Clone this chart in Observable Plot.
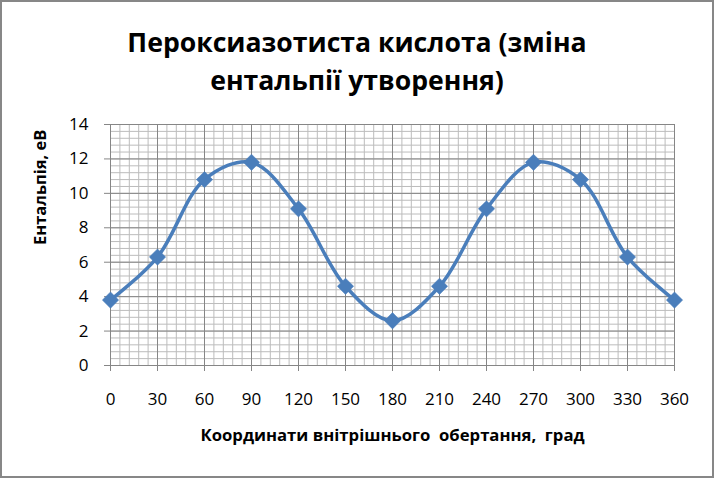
<!DOCTYPE html>
<html><head><meta charset="utf-8">
<script src="https://cdn.jsdelivr.net/npm/d3@7"></script>
<script src="https://cdn.jsdelivr.net/npm/@observablehq/plot@0.6"></script>
<style>
body{margin:0;background:#fff}
#wrap{position:relative;width:714px;height:478px;font-family:"Open Sans",sans-serif;overflow:hidden}
.tl{position:absolute;left:0;width:714px;text-align:center;font-weight:bold;font-size:27px;line-height:27px;height:27px;color:#000;transform:scaleX(0.985);transform-origin:357px 0;white-space:nowrap}
#border{position:absolute;left:0;top:0;width:714px;height:478px;box-sizing:border-box;border:2px solid #878787;pointer-events:none}
</style></head><body>
<div id="wrap"><div id="chart"></div><div id="t1" class="tl" style="top:28px"></div><div id="t2" class="tl" style="top:65.5px"></div><div id="border"></div></div>
<script>
const titleLines = ["Пероксиазотиста кислота (зміна", "ентальпії утворення)"];
const xTitle = "Координати внітрішнього  обертання,  град";
const yTitle = "Ентальпія, еВ";
const angles = [0, 30, 60, 90, 120, 150, 180, 210, 240, 270, 300, 330, 360];
const enthalpy = [3.8, 6.3, 10.8, 11.8, 9.1, 4.6, 2.6, 4.6, 9.1, 11.8, 10.8, 6.3, 3.8];
const xTicks = [0, 30, 60, 90, 120, 150, 180, 210, 240, 270, 300, 330, 360];
const yTicks = [0, 2, 4, 6, 8, 10, 12, 14];

document.getElementById("t1").textContent = titleLines[0];
document.getElementById("t2").textContent = titleLines[1];

const data = angles.map((a, i) => ({a, e: enthalpy[i]}));
const xMinor = d3.range(0, 61).map(i => i * 6);
const yMinor = d3.range(0, 36).map(i => +(i * 0.4).toFixed(1));

const chart = Plot.plot({
  width: 714, height: 478,
  marginLeft: 110, marginRight: 40, marginTop: 124, marginBottom: 113,
  x: {domain: [0, 360], label: null},
  y: {domain: [0, 14], label: null},
  style: {fontFamily: "Open Sans, sans-serif", fontSize: "17px", color: "#000", background: "#fff"},
  marks: [
    Plot.ruleX(xMinor, {stroke: "#bcbcbc", strokeWidth: 1}),
    Plot.ruleY(yMinor, {stroke: "#bcbcbc", strokeWidth: 1}),
    Plot.ruleX(xTicks, {stroke: "#868686", strokeWidth: 1}),
    Plot.ruleY(yTicks, {stroke: "#868686", strokeWidth: 1}),
    Plot.axisX({ticks: xTicks, tickSize: 6, tickPadding: 21, fontSize: 17, stroke: "#868686", fill: "#000", strokeOpacity: 1, tickFormat: d => String(d), label: null}),
    Plot.axisY({ticks: yTicks, tickSize: 6, tickPadding: 16, fontSize: 17, stroke: "#868686", fill: "#000", strokeOpacity: 1, tickFormat: d => String(d), label: null}),
    Plot.line(data, {x: "a", y: "e", curve: "catmull-rom", stroke: "#4a7ebb", strokeWidth: 3.5}),
    Plot.dot(data, {x: "a", y: "e", symbol: "square", rotate: 45, r: 6.5, fill: "#4a7ebb", stroke: "#4a7ebb", strokeWidth: 0.5}),
    Plot.text([xTitle], {frameAnchor: "bottom", dy: 75, fontWeight: "bold", fontSize: 16.7, fill: "#000"}),
    Plot.text([yTitle], {frameAnchor: "left", dx: -70, rotate: -90, fontWeight: "bold", fontSize: 16.5, fill: "#000"})
  ]
});
document.getElementById("chart").appendChild(chart);
</script>
</body></html>
